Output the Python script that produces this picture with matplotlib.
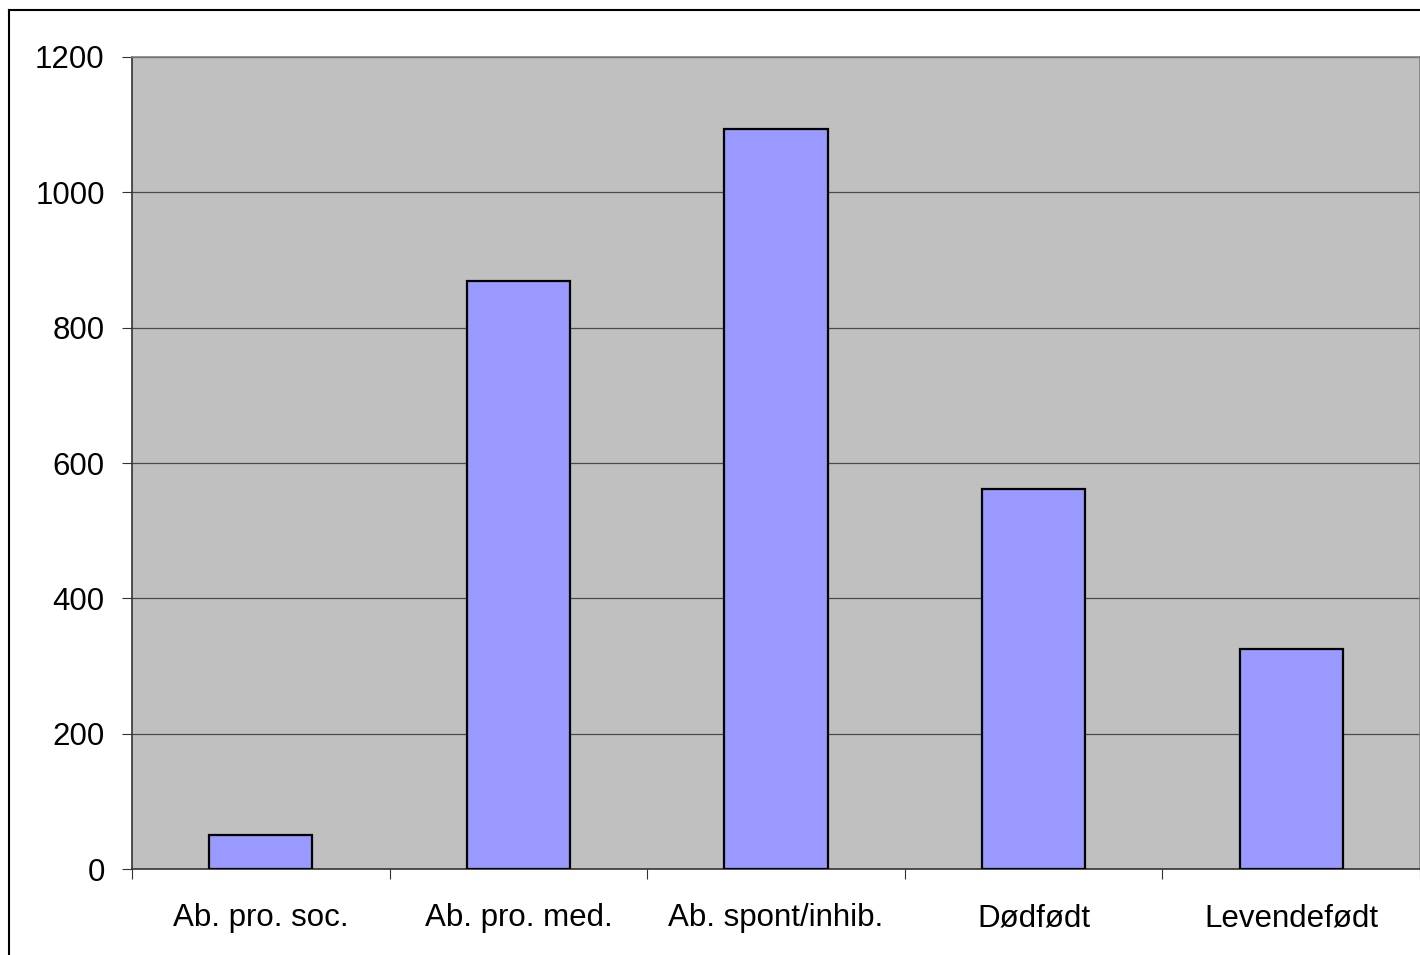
import numpy as np
import matplotlib.pyplot as plt
from matplotlib.lines import Line2D

# data
categories = ['Ab. pro. soc.', 'Ab. pro. med.', 'Ab. spont/inhib.', 'Dødfødt', 'Levendefødt']
values = [50, 869, 1093, 561, 325]
yticks = [0, 200, 400, 600, 800, 1000, 1200]

plt.rcParams['font.family'] = ['Liberation Sans', 'DejaVu Sans']

W, H = 1420, 955
fig = plt.figure(figsize=(W / 100, H / 100), dpi=100)
ax = fig.add_axes([132 / W, 1 - 869 / H, (1420 - 132) / W, (869 - 57) / H])
ax.set_facecolor('#C0C0C0')

x = np.arange(len(categories))
ax.bar(x, values, width=0.4, color='#9999FF', edgecolor='black', linewidth=1.6, zorder=3)

ax.set_xlim(-0.5, len(categories) - 0.5)
ax.set_ylim(0, 1200)
ax.set_yticks(yticks)
ax.set_yticklabels([str(v) for v in yticks], fontsize=22.5)
ax.yaxis.grid(True, color='#4a4a4a', linewidth=0.9, zorder=1)

# category boundaries as ticks, labels in between
ax.set_xticks(np.arange(-0.5, len(categories) + 0.5, 1.0))
ax.set_xticklabels([])
ax.set_xticks(x, minor=True)
ax.set_xticklabels(categories, minor=True, fontsize=22.5)
ax.tick_params(axis='x', which='major', length=7.2, width=0.8, color='#333333', direction='out')
ax.tick_params(axis='x', which='minor', length=0, pad=24.5)
ax.tick_params(axis='y', length=7.2, width=0.8, color='#333333', direction='out', pad=12.5)

for side in ['left', 'bottom']:
    ax.spines[side].set_color('#333333')
    ax.spines[side].set_linewidth(1.2)
for side in ['top', 'right']:
    ax.spines[side].set_color('#808080')
    ax.spines[side].set_linewidth(1.2)

# outer chart border (only left/top visible)
fig.add_artist(Line2D([9 / W, 9 / W], [0, 1 - 10 / H], transform=fig.transFigure, color='black', linewidth=1.5))
fig.add_artist(Line2D([9 / W, 1], [1 - 10 / H, 1 - 10 / H], transform=fig.transFigure, color='black', linewidth=1.5))

fig.savefig('out.png', dpi=100)
